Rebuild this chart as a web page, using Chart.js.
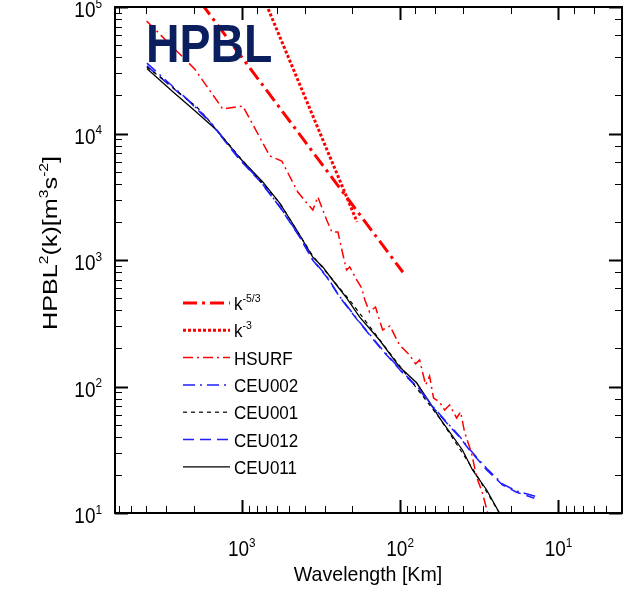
<!DOCTYPE html>
<html>
<head>
<meta charset="utf-8">
<script src="https://cdn.jsdelivr.net/npm/chart.js@4/dist/chart.umd.min.js"></script>
<style>
  body { margin: 0; background: #fff; }
  canvas { display: block; }
</style>
</head>
<body>
<canvas id="graph" width="624" height="590"></canvas>
<script>
// wavelength in km, spectrum values
const k53Km = [1800, 96];
const k53Val = [107000, 800];
const k3Km = [720, 187];
const k3Val = [114000, 2000];

const hsurfKm = [3991, 1984, 1319, 986, 665, 559, 443, 389, 356, 331, 291, 270, 247, 231, 218, 208, 188, 175, 167, 156, 143, 129, 116, 101, 87.1, 79.8, 75.3, 69.0, 65.2, 61.5, 56.4, 52.4, 48.7, 44.0, 41.5, 39.2, 35.4, 32.9, 30.2, 28.0];
const hsurfVal = [77500, 32360, 15630, 16500, 6640, 6060, 3450, 2825, 2486, 3150, 2070, 1665, 1665, 1136, 834, 881, 695, 601, 483, 388, 425, 280, 301, 213, 177, 151, 162, 103, 121, 81.1, 75.4, 65.2, 71.4, 56.4, 62.9, 43.7, 29.8, 19.3, 14.4, 10];

const ceu002Km = [3975, 2725, 2128, 1592, 1030, 770, 576, 431, 357, 291, 241, 180, 135, 96.4, 75.3, 62.4, 56.4, 42.2, 36.5, 28.4, 22.6, 18.4, 13.8];
const ceu002Val = [36000, 23500, 17900, 12500, 6300, 4250, 2650, 1540, 1010, 745, 515, 322, 208, 130, 95, 70, 60.5, 40.5, 32, 22.5, 17.0, 14.9, 13.5];

const ceu001Km = [3975, 2972, 2535, 1923, 1663, 1417, 1225, 1060, 853, 576, 357, 208, 101, 56.4, 34.9, 23.6];
const ceu001Val = [33570, 25530, 21290, 16190, 13270, 10280, 8410, 6760, 4960, 2820, 1080, 480, 146, 56.4, 22.5, 10];

const ceu012Km = [3975, 2725, 2128, 1592, 1030, 770, 576, 431, 357, 291, 241, 180, 135, 96.4, 75.3, 62.4, 56.4, 42.2, 36.5, 28.4, 22.6, 18.4, 14.2];
const ceu012Val = [34200, 22900, 17740, 12330, 6180, 4210, 2625, 1520, 1000, 734, 510, 318, 205, 128, 93.8, 68.9, 59.5, 39.9, 31.5, 21.9, 16.7, 14.6, 13.1];

const ceu011Km = [3975, 2725, 2038, 1438, 1030, 737, 576, 450, 357, 308, 267, 218, 180, 135, 101, 78.7, 62.4, 56.4, 40.4, 34.9, 28.4, 23.6];
const ceu011Val = [32600, 21400, 15600, 10600, 6400, 4140, 2820, 1726, 1057, 881, 695, 501, 354, 233, 143, 107, 68.9, 56.4, 31.5, 21.9, 15.2, 10.0];

const xTicks = [1000, 100, 10];
const yTicks = [10, 100, 1000, 10000, 100000];
const legendNames = [['k', '-5/3'], ['k', '-3'], ['HSURF'], ['CEU002'], ['CEU001'], ['CEU012'], ['CEU011']];

const FONT = '"Liberation Sans", Arial, Helvetica, sans-serif';

function pts(xs, ys) {
    return xs.map((x, i) => ({x: x, y: ys[i]}));
}

// parts alternate normal / superscript
function partsWidth(c, parts, size) {
    let w = 0;
    parts.forEach((p, i) => {
        c.font = (i % 2 ? size * 0.62 : size) + 'px ' + FONT;
        w += c.measureText(p).width;
    });
    return w;
}
function drawParts(c, parts, x, y, size) {
    parts.forEach((p, i) => {
        let s = i % 2 ? size * 0.62 : size;
        c.font = s + 'px ' + FONT;
        c.fillText(p, x, i % 2 ? y - size * 0.42 : y);
        x += c.measureText(p).width;
    });
}

const decoration = {
    id: 'decoration',
    afterDraw(chart) {
        const c = chart.ctx;
        const a = chart.chartArea;
        const xs = chart.scales.x, ys = chart.scales.y;
        c.save();
        c.fillStyle = '#000';
        c.strokeStyle = '#000';
        c.textBaseline = 'alphabetic';
        c.textAlign = 'left';

        // frame
        c.lineWidth = 2;
        c.strokeRect(a.left, a.top, a.right - a.left, a.bottom - a.top);

        // inside ticks
        for (let d = 0; d < 6; d++) {
            for (let m = 1; m < 10; m++) {
                let v = m * Math.pow(10, d);
                let len = m == 1 ? 13 : 7;
                c.lineWidth = m == 1 ? 2 : 1;
                let even = m == 1 || m % 2 == 0;
                if (v >= xs.min && v <= xs.max) {
                    let px = Math.round(xs.getPixelForValue(v)) + 0.5;
                    c.beginPath();
                    c.moveTo(px, a.bottom); c.lineTo(px, a.bottom - len);
                    if (even) { c.moveTo(px, a.top); c.lineTo(px, a.top + len); }
                    c.stroke();
                }
                if (v >= ys.min && v <= ys.max) {
                    let py = Math.round(ys.getPixelForValue(v)) + 0.5;
                    c.beginPath();
                    c.moveTo(a.left, py); c.lineTo(a.left + len, py);
                    if (even) { c.moveTo(a.right, py); c.lineTo(a.right - len, py); }
                    c.stroke();
                }
            }
        }

        // tick labels
        const ts = 19;
        xTicks.forEach(v => {
            let parts = ['10', String(Math.round(Math.log10(v)))];
            let w = partsWidth(c, parts, ts);
            c.save();
            c.translate(xs.getPixelForValue(v) - w / 2, a.bottom + 43);
            c.scale(1, 1.15);
            drawParts(c, parts, 0, 0, ts);
            c.restore();
        });
        yTicks.forEach(v => {
            let parts = ['10', String(Math.round(Math.log10(v)))];
            let w = partsWidth(c, parts, ts);
            c.save();
            c.translate(102 - w, ys.getPixelForValue(v) + 10);
            c.scale(1, 1.15);
            drawParts(c, parts, 0, 0, ts);
            c.restore();
        });

        // axis titles
        c.save();
        c.font = '19px ' + FONT;
        c.translate(368, 581);
        c.scale(1.03, 1.1);
        c.textAlign = 'center';
        c.fillText('Wavelength [Km]', 0, 0);
        c.restore();

        const yTitle = ['HPBL', '2', '(k)[m', '3', 's', '-2', ']'];
        c.save();
        c.translate(57, 243);
        c.rotate(-Math.PI / 2);
        c.scale(1.2, 1);
        let tw = partsWidth(c, yTitle, 21);
        drawParts(c, yTitle, -tw / 2, 0, 21);
        c.restore();

        // big label
        c.save();
        c.font = 'bold 46px ' + FONT;
        c.fillStyle = '#0b1f5e';
        c.translate(146, 62);
        c.scale(1.01, 1.15);
        c.fillText('HPBL', 0, 0);
        c.restore();

        // legend
        chart.data.datasets.forEach((ds, i) => {
            let yy = 303 + i * 27.3;
            c.save();
            c.beginPath();
            c.rect(175, yy - 10, 60, 20);
            c.clip();
            c.strokeStyle = ds.borderColor;
            c.lineWidth = ds.borderWidth;
            c.setLineDash(ds.borderDash || []);
            c.beginPath();
            c.moveTo(183, yy); c.lineTo(230, yy);
            c.stroke();
            c.restore();
            c.save();
            c.fillStyle = '#000';
            c.translate(234, yy + 7);
            c.scale(1, 1.12);
            drawParts(c, legendNames[i], 0, 0, 17);
            c.restore();
        });
        c.restore();
    }
};

const ctx = document.getElementById('graph').getContext('2d');

const myChart = new Chart(ctx, {
    type: 'line',
    data: {
        datasets: [
            {label: 'k-5/3', data: pts(k53Km, k53Val), borderColor: '#ff0000', borderWidth: 3, borderDash: [14, 5, 3, 5]},
            {label: 'k-3', data: pts(k3Km, k3Val), borderColor: '#ff0000', borderWidth: 3, borderDash: [3, 2]},
            {label: 'HSURF', data: pts(hsurfKm, hsurfVal), borderColor: '#ff0000', borderWidth: 1.5, borderDash: [10, 4, 2, 4]},
            {label: 'CEU002', data: pts(ceu002Km, ceu002Val), borderColor: '#1f1fff', borderWidth: 1.5, borderDash: [12, 5, 2, 5]},
            {label: 'CEU001', data: pts(ceu001Km, ceu001Val), borderColor: '#000000', borderWidth: 1.2, borderDash: [4, 4]},
            {label: 'CEU012', data: pts(ceu012Km, ceu012Val), borderColor: '#1f1fff', borderWidth: 1.5, borderDash: [11, 6]},
            {label: 'CEU011', data: pts(ceu011Km, ceu011Val), borderColor: '#000000', borderWidth: 1.3}
        ]
    },
    options: {
        responsive: false,
        animation: false,
        parsing: false,
        layout: { padding: { top: 7, right: 2, left: 0, bottom: 0 } },
        elements: { point: { radius: 0 }, line: { tension: 0, fill: false } },
        plugins: { legend: { display: false }, tooltip: { enabled: false } },
        scales: {
            x: {
                type: 'logarithmic',
                reverse: true,
                min: 3.97,
                max: 6320,
                grid: { display: false },
                border: { display: false },
                ticks: { display: false },
                afterFit: s => { s.height = 77; }
            },
            y: {
                type: 'logarithmic',
                min: 10,
                max: 100000,
                grid: { display: false },
                border: { display: false },
                ticks: { display: false },
                afterFit: s => { s.width = 115; }
            }
        }
    },
    plugins: [decoration]
});
</script>
</body>
</html>
